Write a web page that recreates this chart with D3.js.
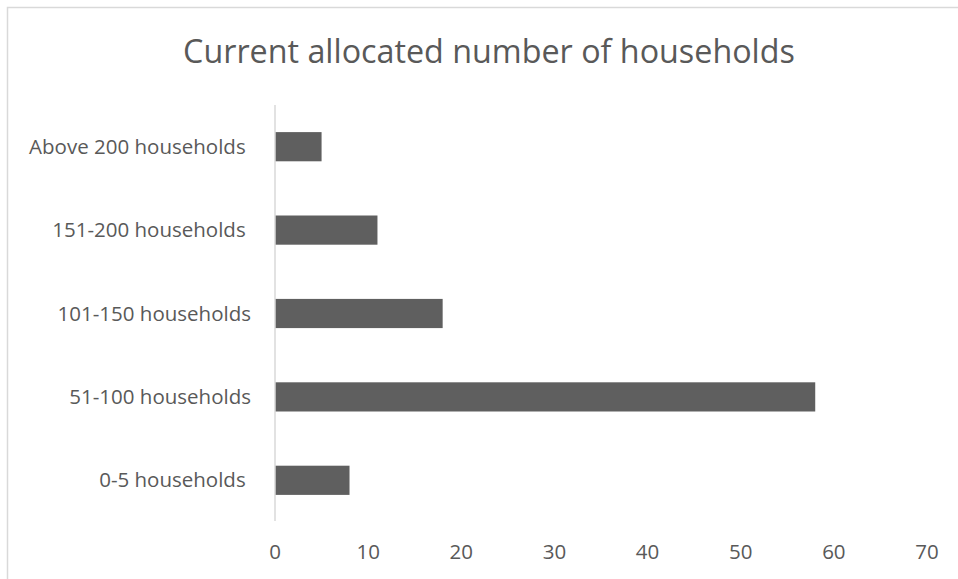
<!DOCTYPE html>
<html>
<head>
    <meta charset="utf-8">
    <title>Current allocated number of households</title>
    <script src="https://d3js.org/d3.v7.min.js"></script>
</head>
<style>
    body { margin: 0; background: white; }
    svg text { font-family: "Open Sans", sans-serif; fill: #595959; white-space: pre; }
</style>
<body>
    <div id="chart"></div>
    <script>
        // data
        var categories = ["Above 200 households ", "151-200 households ", "101-150 households", "51-100 households", "0-5 households "];
        var values = [5, 11, 18, 58, 8];
        var xTicks = [0, 10, 20, 30, 40, 50, 60, 70];
        var title = "Current allocated number of households";

        var width = 958, height = 579;

        var svg = d3.select("#chart")
            .append("svg")
            .attr("width", width)
            .attr("height", height);

        // chart area border
        svg.append("rect")
            .attr("x", 7.5).attr("y", 7.5)
            .attr("width", 960).attr("height", 600)
            .attr("fill", "none")
            .attr("stroke", "#d9d9d9")
            .attr("stroke-width", 1.5);

        var x = d3.scaleLinear().domain([0, 70]).range([275, 927]);
        var y = d3.scaleBand().domain(categories).range([105, 522]).paddingInner(0.65).paddingOuter(0.325);

        // title, sized to the width seen in the picture
        var t = svg.append("text")
            .attr("x", 489).attr("y", 63)
            .attr("text-anchor", "middle")
            .style("font-size", "30px")
            .text(title);
        var tw = t.node().getComputedTextLength();
        t.style("font-size", (30 * 612 / tw) + "px");

        // bars
        svg.selectAll(".bar")
            .data(values)
            .enter().append("rect")
            .attr("class", "bar")
            .attr("x", x(0))
            .attr("y", function(d, i) { return y(categories[i]); })
            .attr("width", function(d) { return x(d) - x(0); })
            .attr("height", y.bandwidth())
            .attr("fill", "#5f5f5f");

        // vertical axis line
        svg.append("line")
            .attr("x1", x(0)).attr("x2", x(0))
            .attr("y1", 105).attr("y2", 521)
            .attr("stroke", "#d9d9d9")
            .attr("stroke-width", 1.5);

        // category labels
        svg.selectAll(".cat")
            .data(categories)
            .enter().append("text")
            .attr("class", "cat")
            .attr("x", 251)
            .attr("y", function(d) { return y(d) + y.bandwidth() / 2; })
            .attr("dy", "0.35em")
            .attr("text-anchor", "end")
            .style("font-size", "20.5px")
            .text(function(d) { return d; });

        // x tick labels
        svg.selectAll(".tick")
            .data(xTicks)
            .enter().append("text")
            .attr("class", "tick")
            .attr("x", function(d) { return x(d); })
            .attr("y", 559)
            .attr("text-anchor", "middle")
            .style("font-size", "20.5px")
            .text(function(d) { return d; });
    </script>
</body>
</html>
